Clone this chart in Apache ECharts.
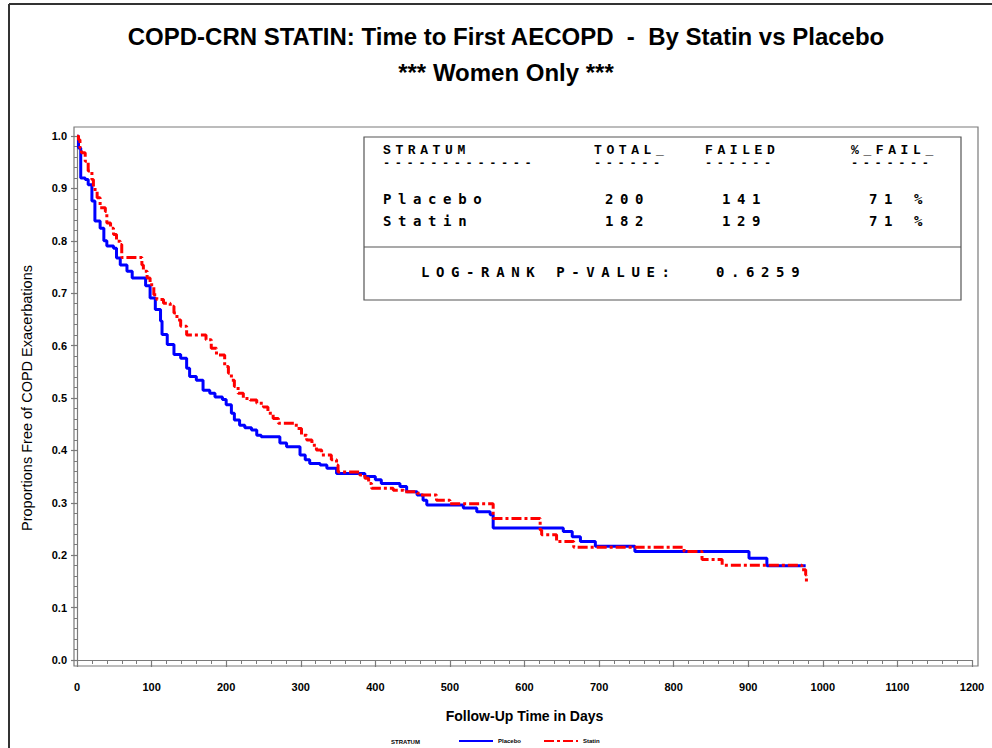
<!DOCTYPE html>
<html>
<head>
<meta charset="utf-8">
<script src="https://cdn.jsdelivr.net/npm/echarts@6/dist/echarts.min.js"></script>
<style>
html,body{margin:0;padding:0;background:#fff;}
#chart{width:992px;height:748px;}
#chart text[style*="DejaVu Sans Mono"]{letter-spacing:6.6px;}
#chart text[style*="Liberation Mono"]{letter-spacing:4.6px;}
</style>
</head>
<body>
<div id="chart"></div>
<script>
// ---- data ----
const placeboDays = [0,2,5,11,15,20,24,31,36,40,49,53,58,67,74,92,98,105,112,114,121,130,139,147,151,160,169,178,185,195,200,207,211,218,225,234,241,247,272,281,299,306,312,326,335,348,386,400,408,433,442,456,464,469,518,536,554,558,652,664,675,695,748,901,925,977];
const placeboSurv = [1.0,0.977,0.92,0.917,0.907,0.876,0.838,0.824,0.80,0.79,0.786,0.767,0.754,0.742,0.729,0.714,0.691,0.669,0.647,0.621,0.602,0.583,0.576,0.557,0.541,0.534,0.515,0.509,0.502,0.497,0.487,0.471,0.458,0.448,0.443,0.439,0.429,0.426,0.414,0.407,0.391,0.382,0.375,0.372,0.366,0.356,0.35,0.344,0.337,0.331,0.321,0.315,0.305,0.296,0.29,0.283,0.277,0.252,0.245,0.235,0.226,0.217,0.207,0.194,0.18,0.18];
const statinDays = [0,2,4,6,11,15,20,22,27,31,38,40,45,49,53,58,60,87,89,94,98,103,107,116,125,130,134,139,147,173,180,187,198,203,207,211,216,223,232,241,250,256,263,270,294,301,308,315,321,328,341,348,350,379,386,391,395,424,438,456,460,482,500,558,621,623,643,666,814,838,865,972,977,978];
const statinSurv = [1.0,0.993,0.977,0.968,0.952,0.933,0.917,0.898,0.882,0.863,0.856,0.834,0.824,0.812,0.799,0.793,0.768,0.754,0.742,0.729,0.716,0.697,0.688,0.681,0.675,0.662,0.649,0.637,0.62,0.611,0.595,0.582,0.56,0.547,0.534,0.522,0.509,0.499,0.496,0.49,0.483,0.471,0.461,0.452,0.442,0.429,0.42,0.41,0.401,0.391,0.382,0.372,0.359,0.353,0.347,0.337,0.328,0.324,0.321,0.318,0.315,0.305,0.298,0.27,0.248,0.239,0.226,0.215,0.207,0.192,0.181,0.172,0.162,0.149];
const seriesNames = ['Placebo','Statin'];
const tableHeader = ['STRATUM','TOTAL_','FAILED','%_FAIL_'];
const tableRows = [
  ['Placebo','200','141','71 %'],
  ['Statin','182','129','71 %']
];
const pValueLabel = 'LOG-RANK P-VALUE:';
const pValue = '0.6259';
const titleLine1 = 'COPD-CRN STATIN: Time to First AECOPD  -  By Statin vs Placebo';
const titleLine2 = '*** Women Only ***';
const xTitle = 'Follow-Up Time in Days';
const yTitle = 'Proportions Free of COPD Exacerbations';

// ---- build ----
const zip = (a,b)=>a.map((v,i)=>[v,b[i]]);
const chart = echarts.init(document.getElementById('chart'), null, {renderer:'svg', width:992, height:748});

const hdrFont = 'bold 13px "Liberation Mono"';
const dashFont = 'bold 12px "Liberation Mono"';
const rowFont = 'bold 14px "DejaVu Sans Mono"';
const colX = [383, 594, 705, 851];
const rowColX = [383, 605, 722, 869];
const txt = (text, x, y, font) => ({type:'text', x, y, silent:true,
  style:{text, font, fill:'#000', verticalAlign:'middle', align:'left'}});

const graphics = [
  {type:'line', shape:{x1:9,y1:4,x2:992,y2:4}, style:{stroke:'#333',lineWidth:2}},
  {type:'line', shape:{x1:9,y1:4,x2:9,y2:748}, style:{stroke:'#333',lineWidth:2}},
  {type:'rect', shape:{x:74,y:127,width:904,height:539}, style:{fill:null,stroke:'#7a7a7a',lineWidth:1.2}, z:-1},
  {type:'rect', shape:{x:364,y:137,width:597,height:163}, style:{fill:'#fff',stroke:'#555',lineWidth:1.2}, z:5},
  {type:'line', shape:{x1:364,y1:247,x2:961,y2:247}, style:{stroke:'#555',lineWidth:1.2}, z:5},
  txt('STRATUM', 391, 742, 'bold 6px "Liberation Sans"')
];
const dashes = ['-------------','------','------','-------'];
tableHeader.forEach((h,i)=>{
  graphics.push(Object.assign(txt(h, colX[i], 150, hdrFont),{z:6}));
  graphics.push(Object.assign(txt(dashes[i], colX[i], 164, dashFont),{z:6}));
});
tableRows.forEach((r,ri)=>{
  r.forEach((c,ci)=>graphics.push(Object.assign(txt(c, rowColX[ci], 199+ri*22, rowFont),{z:6})));
});
graphics.push(Object.assign(txt(pValueLabel, 421, 272, rowFont),{z:6}));
graphics.push(Object.assign(txt(pValue, 716, 272, rowFont),{z:6}));

const axisGrey = '#7a7a7a';
const option = {
  animation:false,
  backgroundColor:'#fff',
  title:[
    {text:titleLine1, left:501, top:19, textAlign:'center',
     textStyle:{fontFamily:'Liberation Sans',fontWeight:'bold',fontSize:24,color:'#000'}},
    {text:titleLine2, left:501, top:55, textAlign:'center',
     textStyle:{fontFamily:'Liberation Sans',fontWeight:'bold',fontSize:24,color:'#000'}}
  ],
  grid:{left:77,right:20,top:136,bottom:88,containLabel:false},
  legend:{
    data:seriesNames, left:458, top:738, itemWidth:34, itemHeight:6, itemGap:22, padding:0,
    itemStyle:{opacity:0},
    textStyle:{fontFamily:'Liberation Sans',fontWeight:'bold',fontSize:6,color:'#000'}
  },
  xAxis:{
    type:'value', min:0, max:1200, interval:100, offset:6,
    name:xTitle, nameLocation:'middle', nameGap:43,
    nameTextStyle:{fontFamily:'Liberation Sans',fontWeight:'bold',fontSize:14,color:'#000'},
    axisLine:{show:true,lineStyle:{color:axisGrey,width:1.2}},
    axisTick:{show:true,length:7,lineStyle:{color:axisGrey,width:1.2}},
    minorTick:{show:true,splitNumber:5,length:4,lineStyle:{color:axisGrey,width:1}},
    axisLabel:{margin:15,fontFamily:'Liberation Sans',fontWeight:'bold',fontSize:11,color:'#000',
      formatter:v=>String(v)},
    splitLine:{show:false}
  },
  yAxis:{
    type:'value', min:0, max:1, interval:0.1, offset:3,
    name:yTitle, nameLocation:'middle', nameGap:40, nameRotate:90,
    nameTextStyle:{fontFamily:'Liberation Sans',fontSize:14.5,color:'#000'},
    axisLine:{show:true,lineStyle:{color:axisGrey,width:1.2}},
    axisTick:{show:true,length:6,lineStyle:{color:axisGrey,width:1.2}},
    minorTick:{show:true,splitNumber:5,length:3,lineStyle:{color:axisGrey,width:1}},
    axisLabel:{margin:7,fontFamily:'Liberation Sans',fontWeight:'bold',fontSize:11,color:'#000',
      formatter:v=>v.toFixed(1)},
    splitLine:{show:false}
  },
  series:[
    {name:seriesNames[0], type:'line', step:'end', showSymbol:false, symbol:'none',
     data:zip(placeboDays,placeboSurv), color:'#0000ff',
     lineStyle:{color:'#0000ff',width:3}, z:2},
    {name:seriesNames[1], type:'line', step:'end', showSymbol:false, symbol:'none',
     data:zip(statinDays,statinSurv), color:'#ff0000',
     lineStyle:{color:'#ff0000',width:3,type:[10,3,3,3]}, z:3}
  ],
  graphic:graphics
};
chart.setOption(option);

function applySpacing(){
  document.querySelectorAll('#chart text').forEach(t=>{
    const s=(t.getAttribute('style')||'')+' '+(t.getAttribute('font-family')||'');
    if(s.indexOf('DejaVu Sans Mono')>=0) t.style.letterSpacing='6.6px';
    else if(s.indexOf('Liberation Mono')>=0) t.style.letterSpacing='4.6px';
  });
}
applySpacing();
chart.on('finished', applySpacing);
</script>
</body>
</html>
